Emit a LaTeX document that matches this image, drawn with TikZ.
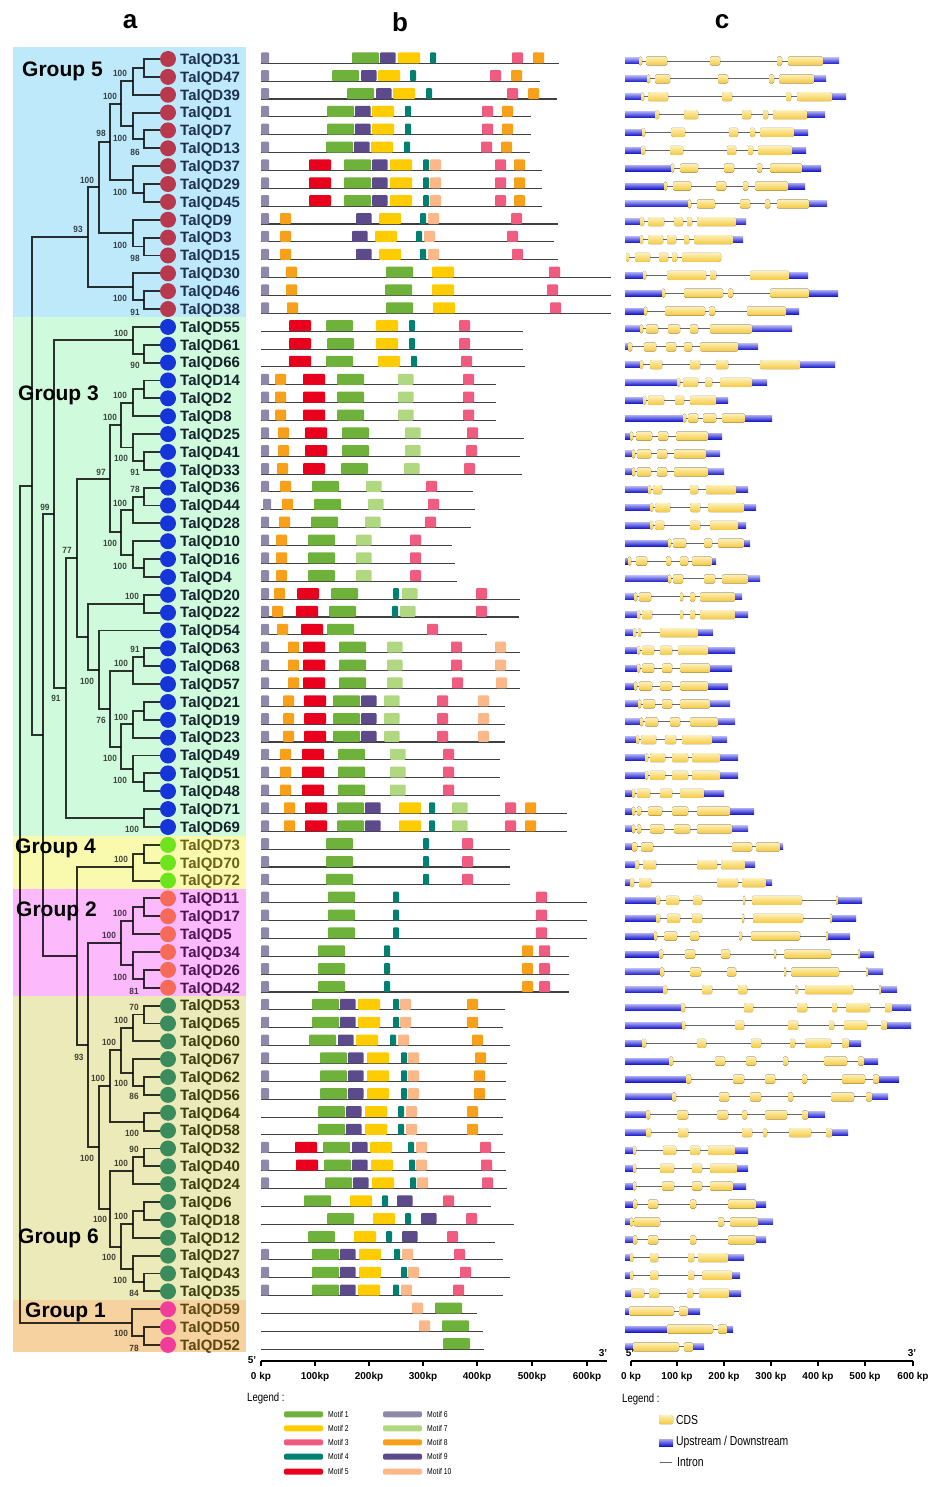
\documentclass[tikz,border=0pt]{standalone}
\usepackage{fontspec}
\setmainfont{Liberation Sans}
\usetikzlibrary{calc}
\definecolor{gfive}{HTML}{BEE9FB}
\definecolor{gthree}{HTML}{D0FADC}
\definecolor{gfour}{HTML}{FAFAAF}
\definecolor{gtwo}{HTML}{FCB9FC}
\definecolor{gsix}{HTML}{ECEAB9}
\definecolor{gone}{HTML}{F5D2A0}
\definecolor{cfive}{HTML}{B8394D}
\definecolor{cthree}{HTML}{1535D8}
\definecolor{cfour}{HTML}{6DE41C}
\definecolor{ctwo}{HTML}{F56A58}
\definecolor{csix}{HTML}{3A8C5C}
\definecolor{cone}{HTML}{F23C9A}
\definecolor{tfive}{HTML}{1D2F4D}
\definecolor{tthree}{HTML}{14202C}
\definecolor{tfour}{HTML}{6B6118}
\definecolor{ttwo}{HTML}{4B1450}
\definecolor{tsix}{HTML}{3B3A0C}
\definecolor{tone}{HTML}{5A4712}
\definecolor{mc1}{HTML}{6EB23C}
\definecolor{mc2}{HTML}{FFCC00}
\definecolor{mc3}{HTML}{F05C80}
\definecolor{mc4}{HTML}{008070}
\definecolor{mc5}{HTML}{E8001C}
\definecolor{mc6}{HTML}{9088A8}
\definecolor{mc7}{HTML}{B0D880}
\definecolor{mc8}{HTML}{F8A01A}
\definecolor{mc9}{HTML}{5C4A8A}
\definecolor{mc10}{HTML}{FCB888}
\definecolor{exlight}{HTML}{FDF0B8}
\definecolor{exdark}{HTML}{F5C940}
\definecolor{uplight}{HTML}{A8A8F4}
\definecolor{updark}{HTML}{1818C8}
\expandafter\def\csname mw1\endcsname{27}
\expandafter\def\csname mw2\endcsname{22}
\expandafter\def\csname mw3\endcsname{11}
\expandafter\def\csname mw4\endcsname{6}
\expandafter\def\csname mw5\endcsname{22}
\expandafter\def\csname mw6\endcsname{8}
\expandafter\def\csname mw7\endcsname{15.5}
\expandafter\def\csname mw8\endcsname{11}
\expandafter\def\csname mw9\endcsname{15.5}
\expandafter\def\csname mw10\endcsname{11}
\def\RY#1{(59+(#1-1)*17.86)}
\tikzset{
  tree/.style={line width=1.9pt, draw=black, draw opacity=0.8},
  dot/.style={circle, inner sep=0pt, minimum size=16pt},
  glabel/.style={inner sep=0pt, anchor=base west, font=\fontsize{15}{16}\selectfont\bfseries},
  bs/.style={inner sep=0pt, font=\fontsize{9}{10}\selectfont\bfseries, text=black, text opacity=0.72, xscale=0.92},
  gtitle/.style={inner sep=0pt, anchor=west, font=\fontsize{21}{22}\selectfont\bfseries},
  header/.style={inner sep=0pt, font=\fontsize{26}{28}\selectfont\bfseries},
  gline/.style={line width=1.1pt, draw=black!75},
  intron/.style={line width=0.9pt, draw=black!60},
  exon/.style={rounded corners=1.5pt, top color=exlight, bottom color=exdark, draw=none},
  updown/.style={top color=uplight, bottom color=updark, draw=none},
  axis/.style={line width=1.6pt, draw=black},
  ticklab/.style={inner sep=0pt, font=\fontsize{10}{11}\selectfont\bfseries},
  legtxt/.style={inner sep=0pt, anchor=west, xscale=0.8},
}
\newcommand\clade[4]{%
  \path let \p1=(#3), \p2=(#4) in coordinate (#1) at (#2pt,{0.5*(\y1+\y2)});
  \draw[tree] (#3) -| (#1) |- (#4);
}
\newcommand\genes[4]{%
  \foreach \n [count=\k from #1] in {#4} {
    \node[dot, fill=#2] (c\k) at (168,{\RY{\k}}) {};
    \node[glabel, text=#3] (l\k) at (180,{\RY{\k}+5.3}) {TalQD\n};
    \coordinate (t\k) at (160,{\RY{\k}});
  }}
\newcommand\mrow[3]{%
  \pgfmathsetmacro\ym{\RY{#1}}
  \draw[gline] (261,{\ym+4.3}) -- (#2,{\ym+4.3});
  \foreach \m/\s in {#3} {
    \fill[mc\m, rounded corners=1pt] (\s,{\ym-6.7}) rectangle ++(\csname mw\m\endcsname,11);
  }}
\newcommand\crow[5]{%
  \pgfmathsetmacro\yc{\RY{#1}+2}
  \draw[intron] (#2,\yc) -- (#3,\yc);
  \pgfmathtruncatemacro\hasup{#2>626.5}
  \ifnum\hasup=1 \fill[updown] (625,{\yc-3}) rectangle (#2,{\yc+3});\fi
  \pgfmathtruncatemacro\hasdn{#4>#3+0.5}
  \ifnum\hasdn=1 \fill[updown] (#3,{\yc-3}) rectangle (#4,{\yc+3});\fi
  \foreach \a/\b in {#5} {
    \fill[exon] (\a,{\yc-4.5}) rectangle (\b,{\yc+4.5});
  }}
\begin{document}
\begin{tikzpicture}[x=1pt,y=-1pt]
\useasboundingbox (0,0) rectangle (940,1487);
\fill[white] (0,0) rectangle (940,1487);
% group backgrounds
\fill[gfive] (13,47) rectangle (246,317);
\fill[gthree] (13,317) rectangle (246,835.5);
\fill[gfour] (13,835.5) rectangle (246,889);
\fill[gtwo] (13,889) rectangle (246,996);
\fill[gsix] (13,996) rectangle (246,1300);
\fill[gone] (13,1300) rectangle (246,1352);
% headers
\node[header] (ha) at (130,22) {a};
\node[header] (hb) at (400,22) {b};
\node[header] (hc) at (722,22) {c};
% group titles (under the tree lines)
\node[gtitle] (G5) at (22,71) {Group 5};
\node[gtitle] (G3) at (18,395) {Group 3};
\node[gtitle] (G4) at (15,848) {Group 4};
\node[gtitle] (G2) at (16,911) {Group 2};
\node[gtitle] (G6) at (18,1238) {Group 6};
\node[gtitle] (G1) at (25,1312) {Group 1};
% genes
\genes{1}{cfive}{tfive}{31,47,39,1,7,13,37,29,45,9,3,15,30,46,38}
\genes{16}{cthree}{tthree}{55,61,66,14,2,8,25,41,33,36,44,28,10,16,4,20,22,54,63,68,57,21,19,23,49,51,48,71,69}
\genes{45}{cfour}{tfour}{73,70,72}
\genes{48}{ctwo}{ttwo}{11,17,5,34,26,42}
\genes{54}{csix}{tsix}{53,65,60,67,62,56,64,58,32,40,24,6,18,12,27,43,35}
\genes{71}{cone}{tone}{59,50,52}
% tree: group 5
\clade{A}{144}{t1}{t2}
\clade{B}{133}{A}{t3}
\clade{C}{144}{t5}{t6}
\clade{D}{133}{t4}{C}
\clade{E}{121}{B}{D}
\clade{F}{144}{t8}{t9}
\clade{G}{133}{t7}{F}
\clade{H}{110}{E}{G}
\clade{I}{144}{t11}{t12}
\clade{J}{133}{t10}{I}
\clade{K}{99}{H}{J}
\clade{L}{144}{t14}{t15}
\clade{M}{133}{t13}{L}
\clade{N}{88}{K}{M}
% group 3
\clade{g3a}{144}{t17}{t18}
\clade{g3b}{133}{t16}{g3a}
\clade{g3c}{144}{t19}{t20}
\clade{g3d}{133}{g3c}{t21}
\clade{g3e}{144}{t23}{t24}
\clade{g3f}{133}{t22}{g3e}
\clade{g3g}{121}{g3d}{g3f}
\clade{g3h}{144}{t25}{t26}
\clade{g3i}{133}{g3h}{t27}
\clade{g3j}{144}{t29}{t30}
\clade{g3k}{133}{t28}{g3j}
\clade{g3l}{121}{g3i}{g3k}
\clade{g3V}{110}{g3g}{g3l}
\clade{g3m}{144}{t31}{t32}
\clade{g3n}{144}{t34}{t35}
\clade{g3o}{133}{g3n}{t36}
\clade{g3p}{144}{t37}{t38}
\clade{g3q}{133}{g3p}{t39}
\clade{g3r}{144}{t41}{t42}
\clade{g3s}{133}{t40}{g3r}
\clade{g3Z}{121}{g3q}{g3s}
\clade{g3Y}{110}{g3o}{g3Z}
\clade{g3X}{99}{t33}{g3Y}
\clade{g3W}{88}{g3m}{g3X}
\clade{g3U}{77}{g3V}{g3W}
\clade{g3t}{144}{t43}{t44}
\clade{g3T}{66}{g3U}{g3t}
\clade{g3R}{54}{g3b}{g3T}
% group 4
\clade{g4a}{144}{t45}{t46}
\clade{g4b}{133}{g4a}{t47}
% group 2
\clade{g2a}{144}{t48}{t49}
\clade{g2b}{133}{g2a}{t50}
\clade{g2c}{144}{t52}{t53}
\clade{g2d}{133}{t51}{g2c}
\clade{g2e}{121}{g2b}{g2d}
% group 6
\clade{g6a}{144}{t54}{t55}
\clade{g6b}{133}{g6a}{t56}
\clade{g6c}{144}{t58}{t59}
\clade{g6d}{133}{t57}{g6c}
\clade{g6e}{121}{g6b}{g6d}
\clade{g6f}{144}{t60}{t61}
\clade{g6g}{110}{g6e}{g6f}
\clade{g6h}{144}{t62}{t63}
\clade{g6i}{133}{g6h}{t64}
\clade{g6j}{144}{t65}{t66}
\clade{g6k}{133}{g6j}{t67}
\clade{g6l}{144}{t69}{t70}
\clade{g6m}{133}{t68}{g6l}
\clade{g6n}{121}{g6k}{g6m}
\clade{g6o}{110}{g6i}{g6n}
\clade{g6p}{99}{g6g}{g6o}
\clade{g6q}{88}{g2e}{g6p}
\clade{S}{77}{g4b}{g6q}
\clade{Q}{43}{g3R}{S}
\clade{P}{32}{N}{Q}
% group 1
\clade{g1a}{144}{t72}{t73}
\clade{g1b}{132}{t71}{g1a}
\clade{root}{20}{P}{g1b}
% bootstrap values
\foreach \bx/\by/\bv [count=\q] in {120/73/100,110/96/100,101/133/98,120/138/100,135/152/86,87/180/100,120/192/100,78/229/93,120/245/100,135/258/98,120/298/100,135/312/91,
121/333/100,135/365/90,120/395/100,110/417/100,121/458/100,135/472/91,101/472/97,135/489/78,120/503/100,45/507/99,110/543/100,67/550/77,120/566/100,132/596/100,135/649/91,121/663/100,87/681/100,56/698/91,101/720/76,121/717/100,110/758/100,120/780/100,132/829/100,
121/859/100,120/913/100,109/935/100,120/977/100,134/991/81,
134/1007/70,121/1020/100,109/1042/100,79/1057/93,98/1078/100,121/1083/100,134/1096/86,132/1133/100,134/1149/90,87/1158/100,121/1163/100,100/1219/100,121/1216/100,109/1257/100,120/1280/100,134/1293/84,
121/1333/100,134/1348/78}
  {\node[bs] (bs\q) at (\bx,\by) {\bv};}
% ===== panel b: motifs =====
\mrow{1}{559}{6/261,1/352,9/380,2/398,4/430,3/512,8/533}
\mrow{2}{540}{6/261,1/332,9/361,2/378,4/410,3/490,8/511}
\mrow{3}{557}{6/261,1/347,9/376,2/393,4/426,3/507,8/528}
\mrow{4}{531}{6/261,1/327,9/355,2/372,4/405,3/482,8/502}
\mrow{5}{531}{6/261,1/327,9/355,2/372,4/405,3/482,8/502}
\mrow{6}{530}{6/261,1/326,9/354,2/371,4/404,3/481,8/501}
\mrow{7}{542}{6/261,5/309,1/344,9/372,2/390,4/423,10/430,3/495,8/514}
\mrow{8}{542}{6/261,5/309,1/344,9/372,2/390,4/423,10/430,3/495,8/514}
\mrow{9}{542}{6/261,5/309,1/344,9/372,2/390,4/423,10/430,3/495,8/514}
\mrow{10}{558}{6/261,8/280,9/356,2/379,4/420,10/428,3/511}
\mrow{11}{554}{6/261,8/280,9/352,2/375,4/416,10/424,3/507}
\mrow{12}{558}{6/261,8/280,9/356,2/379,4/420,10/428,3/512}
\mrow{13}{611}{6/261,8/286,1/386,2/432,3/549}
\mrow{14}{611}{6/261,8/286,1/385,2/432,3/547}
\mrow{15}{611}{6/261,8/287,1/386,2/433,3/550}
\mrow{16}{523}{5/289,1/326,2/376,4/409,3/459}
\mrow{17}{523}{5/289,1/327,2/376,4/409,3/459}
\mrow{18}{525}{5/289,1/326,2/378,4/411,3/461}
\mrow{19}{496}{6/261,8/275,5/303,1/337,7/398,3/463}
\mrow{20}{496}{6/261,8/275,5/303,1/337,7/398,3/463}
\mrow{21}{496}{6/261,8/275,5/303,1/337,7/398,3/463}
\mrow{22}{524}{6/261,8/278,5/305,1/342,7/405,3/467}
\mrow{23}{520}{6/261,8/278,5/305,1/342,7/405,3/466}
\mrow{24}{522}{6/261,8/277,5/303,1/341,7/404,3/464}
\mrow{25}{473}{6/261,8/280,1/312,7/366,3/426}
\mrow{26}{475}{6/263,8/282,1/314,7/368,3/428}
\mrow{27}{471}{6/261,8/279,1/311,7/365,3/425}
\mrow{28}{452}{6/261,8/276,1/308,7/356,3/410}
\mrow{29}{455}{6/261,8/276,1/308,7/356,3/410}
\mrow{30}{457}{6/261,8/276,1/308,7/356,3/410}
\mrow{31}{520}{6/261,8/274,5/297,1/331,4/393,7/402,3/476}
\mrow{32}{519}{6/261,8/272,5/296,1/329,4/392,7/400,3/476}
\mrow{33}{487}{6/261,8/277,5/301,1/327,3/427}
\mrow{34}{520}{6/261,8/288,5/303,1/339,7/387,3/451,10/495}
\mrow{35}{520}{6/261,8/288,5/303,1/339,7/387,3/451,10/495}
\mrow{36}{520}{6/261,8/288,5/303,1/339,7/387,3/452,10/496}
\mrow{37}{505}{6/261,8/283,5/304,1/333,9/361,7/384,3/437,10/478}
\mrow{38}{505}{6/261,8/283,5/304,1/333,9/361,7/384,3/437,10/478}
\mrow{39}{505}{6/261,8/283,5/304,1/333,9/361,7/384,3/437,10/478}
\mrow{40}{500}{6/261,8/280,5/302,1/338,7/390,3/443}
\mrow{41}{500}{6/261,8/280,5/302,1/338,7/390,3/443}
\mrow{42}{500}{6/261,8/280,5/302,1/338,7/390,3/443}
\mrow{43}{567}{6/261,8/284,5/305,1/337,9/365,2/399,4/429,7/452,3/505,8/525}
\mrow{44}{567}{6/261,8/284,5/305,1/337,9/365,2/399,4/429,7/452,3/505,8/525}
\mrow{45}{510}{6/261,1/326,4/423,3/462}
\mrow{46}{510}{6/261,1/326,4/423,3/462}
\mrow{47}{510}{6/261,1/326,4/423,3/462}
\mrow{48}{587}{6/261,1/328,4/393,3/536}
\mrow{49}{587}{6/261,1/328,4/393,3/536}
\mrow{50}{587}{6/261,1/328,4/393,3/536}
\mrow{51}{569}{6/261,1/318,4/384,8/522,3/539}
\mrow{52}{569}{6/261,1/318,4/384,8/522,3/539}
\mrow{53}{569}{6/261,1/318,4/384,8/522,3/539}
\mrow{54}{505}{6/261,1/312,9/340,2/358,4/393,10/400,8/467}
\mrow{55}{503}{6/261,1/312,9/340,2/358,4/393,10/400,8/467}
\mrow{56}{510}{6/261,1/309,9/338,2/356,4/390,10/398,8/472}
\mrow{57}{507}{6/261,1/320,9/348,2/367,4/401,10/408,8/475}
\mrow{58}{506}{6/261,1/320,9/348,2/367,4/401,10/408,8/474}
\mrow{59}{506}{6/261,1/320,9/348,2/367,4/401,10/408,8/474}
\mrow{60}{503}{1/318,9/346,2/365,4/398,10/406,8/467}
\mrow{61}{503}{1/318,9/346,2/365,4/398,10/406,8/467}
\mrow{62}{505}{6/261,5/295,1/323,9/352,2/370,4/408,10/416,3/480}
\mrow{63}{506}{6/261,5/296,1/324,9/352,2/371,4/409,10/416,3/481}
\mrow{64}{507}{6/261,1/325,9/353,2/372,4/410,10/417,3/482}
\mrow{65}{491}{1/304,2/350,4/382,9/397,3/443}
\mrow{66}{514}{1/327,2/373,4/405,9/421,3/466}
\mrow{67}{495}{1/308,2/354,4/386,9/402,3/447}
\mrow{68}{503}{6/261,1/312,9/340,2/359,4/394,10/402,3/454}
\mrow{69}{510}{6/261,1/312,9/340,2/359,4/401,10/408,3/460}
\mrow{70}{503}{6/261,1/312,9/340,2/358,4/393,10/401,3/453}
\mrow{71}{477}{10/412,1/435}
\mrow{72}{483}{10/419,1/442}
\mrow{73}{484}{1/443}
% axis b
\draw[axis] (261,1361) -- (607,1361);
\foreach \tx/\tl [count=\q] in {261/0 kp,315/100kp,369/200kp,423/300kp,477/400kp,532/500kp,587/600kp}
  {\draw[line width=1.2pt] (\tx,1361) -- (\tx,1366); \node[ticklab] (tb\q) at (\tx,1377) {\tl};}
\node[ticklab] (b5) at (252,1360) {5'};
\node[ticklab] (b3) at (603,1353) {3'};
% legend b
\node[legtxt, font=\fontsize{12}{13}\selectfont] (legb) at (247,1398) {Legend :};
\foreach \mm/\lx/\ly [count=\q] in {1/284/1414.3,2/284/1428.3,3/284/1442.3,4/284/1456.7,5/284/1471.7,6/383/1414.3,7/383/1428.3,8/383/1442.3,9/383/1456.7,10/383/1471.7}
  {\fill[mc\mm, rounded corners=2pt] (\lx,\ly-3) rectangle (\lx+39,\ly+3);
   \node[legtxt, font=\fontsize{8.5}{9}\selectfont] (lm\q) at (\lx+44,\ly) {Motif \mm};}
% ===== panel c: gene structures =====
\crow{1}{639}{823}{839}{639/642,646/667,710/720,777/782,788/823}
\crow{2}{647}{814}{826}{647/650,655/670,718/728,769/774,779/814}
\crow{3}{641}{832}{846}{641/644,648/668,722/732,786/791,797/832}
\crow{4}{655}{807}{825}{655/659,684/698,742/751,763/768,773/807}
\crow{5}{642}{794}{808}{642/645,671/685,729/738,750/755,760/794}
\crow{6}{641}{792}{806}{641/645,670/683,727/736,748/753,758/792}
\crow{7}{671}{802}{821}{671/674,680/698,724/734,757/762,770/802}
\crow{8}{664}{788}{805}{664/667,673/691,716/726,743/748,755/788}
\crow{9}{688}{809}{827}{688/691,697/715,740/750,765/770,777/809}
\crow{10}{640}{736}{746}{640/644,648/664,674/683,687/692,697/736}
\crow{11}{640}{733}{743}{640/643,648/663,667/676,684/689,694/733}
\crow{12}{626}{721}{721}{626/629,635/650,659/668,672/677,682/721}
\crow{13}{643}{789}{808}{643/646,667/706,710/716,750/789}
\crow{14}{662}{809}{838}{662/665,684/723,728/733,770/809}
\crow{15}{644}{786}{799}{644/647,665/705,709/715,747/786}
\crow{16}{640}{752}{792}{640/643,646/658,668/680,690/698,710/752}
\crow{17}{628}{738}{758}{628/632,644/656,666/676,684/692,700/738}
\crow{18}{640}{800}{835}{640/643,650/662,690/700,716/728,760/800}
\crow{19}{677}{752}{767}{677/680,683/698,705/712,720/752}
\crow{20}{643}{716}{728}{643/646,648/664,675/684,690/716}
\crow{21}{683}{745}{772}{683/686,688/698,703/716,722/745}
\crow{22}{630}{708}{722}{630/633,636/652,658/668,676/708}
\crow{23}{632}{706}{720}{632/635,637/651,657/667,674/706}
\crow{24}{632}{708}{724}{632/635,637/651,657/667,674/708}
\crow{25}{648}{736}{748}{648/651,653/662,690/698,706/736}
\crow{26}{650}{744}{756}{650/653,655/670,690/700,708/744}
\crow{27}{650}{738}{746}{650/653,655/664,690/700,710/738}
\crow{28}{668}{744}{750}{668/671,673/686,704/712,718/744}
\crow{29}{628}{712}{716}{628/631,636/647,666/671,680/688,692/712}
\crow{30}{668}{748}{760}{668/671,673/683,704/715,722/748}
\crow{31}{634}{735}{742}{634/637,639/651,680/683,690/695,700/735}
\crow{32}{637}{735}{748}{637/640,642/652,680/683,690/695,700/735}
\crow{33}{633}{698}{713}{633/636,638/641,660/698}
\crow{34}{637}{708}{735}{637/640,642/654,660/672,678/708}
\crow{35}{637}{710}{732}{637/640,642/654,662/672,680/710}
\crow{36}{634}{708}{728}{634/637,639/652,660/672,680/708}
\crow{37}{638}{710}{730}{638/641,643/655,662/672,680/710}
\crow{38}{640}{718}{735}{640/643,645/658,670/680,690/718}
\crow{39}{636}{712}{727}{636/639,641/656,665/676,682/712}
\crow{40}{645}{720}{738}{645/648,650/665,672/688,692/720}
\crow{41}{645}{720}{738}{645/648,650/665,672/688,692/720}
\crow{42}{632}{704}{724}{632/635,637/650,660/672,680/704}
\crow{43}{632}{730}{754}{632/635,637/641,648/662,672/688,697/730}
\crow{44}{632}{732}{748}{632/635,637/641,650/664,674/690,697/732}
\crow{45}{632}{780}{783}{632/637,641/653,732/752,756/780}
\crow{46}{635}{745}{755}{635/639,643/656,697/717,721/745}
\crow{47}{630}{766}{772}{630/634,639/651,717/738,742/766}
\crow{48}{656}{838}{862}{656/660,666/679,693/702,743/745,752/802,836/838}
\crow{49}{656}{832}{856}{656/660,667/680,692/702,742/744,753/803,830/832}
\crow{50}{654}{828}{850}{654/657,664/677,690/699,739/742,751/800,826/828}
\crow{51}{659}{860}{874}{659/663,685/695,721/730,774/776,784/831,858/860}
\crow{52}{660}{868}{883}{660/664,690/701,727/736,784/786,791/839,866/868}
\crow{53}{663}{881}{897}{663/667,702/712,738/747,795/798,805/853,879/881}
\crow{54}{681}{892}{911}{681/685,744/753,797/807,832/837,846/870,885/892}
\crow{55}{682}{887}{911}{682/685,735/744,788/798,829/834,844/867,881/887}
\crow{56}{642}{849}{861}{642/646,697/706,751/761,790/795,805/831,842/849}
\crow{57}{669}{864}{878}{669/673,715/725,746/756,783/788,824/847,858/864}
\crow{58}{686}{879}{899}{686/691,733/744,765/775,802/807,842/865,873/879}
\crow{59}{672}{872}{888}{672/676,719/729,750/761,788/793,831/854,866/872}
\crow{60}{646}{808}{825}{646/650,677/688,717/728,742/747,765/787,802/808}
\crow{61}{646}{832}{848}{646/651,678/688,742/752,763/767,789/811,826/832}
\crow{62}{633}{735}{748}{633/636,663/676,690/700,708/735}
\crow{63}{633}{737}{748}{633/636,660/674,692/702,710/737}
\crow{64}{633}{733}{746}{633/636,662/674,692/702,710/733}
\crow{65}{633}{756}{766}{633/637,648/658,690/696,728/756}
\crow{66}{630}{758}{773}{630/633,634/660,718/724,730/758}
\crow{67}{633}{756}{766}{633/637,648/658,690/696,728/756}
\crow{68}{630}{728}{744}{630/633,650/658,688/694,698/728}
\crow{69}{630}{732}{740}{630/633,650/658,688/694,702/732}
\crow{70}{631}{729}{741}{631/644,649/659,687/693,699/729}
\crow{71}{629}{688}{700}{629/674,679/688}
\crow{72}{667}{727}{733}{667/713,718/727}
\crow{73}{633}{693}{704}{633/679,684/693}
% axis c
\draw[axis] (631,1361) -- (913,1361);
\foreach \tx/\tl [count=\q] in {631/0 kp,677/100 kp,724/200 kp,771/300 kp,818/400 kp,865/500 kp,913/600 kp}
  {\draw[line width=1.2pt] (\tx,1361) -- (\tx,1366); \node[ticklab] (tc\q) at (\tx,1377) {\tl};}
\node[ticklab] (c5) at (630,1353) {5'};
\node[ticklab] (c3) at (912,1353) {3'};
% legend c
\node[legtxt, font=\fontsize{12}{13}\selectfont] (legc) at (622,1399) {Legend :};
\fill[exon] (659,1415) rectangle (673,1424);
\node[legtxt, font=\fontsize{13}{14}\selectfont] (lcds) at (676,1420) {CDS};
\fill[updown] (659,1439) rectangle (673,1446);
\node[legtxt, font=\fontsize{13}{14}\selectfont] (lud) at (676,1442) {Upstream / Downstream};
\draw[intron, line width=1pt] (660,1462) -- (672,1462);
\node[legtxt, font=\fontsize{13}{14}\selectfont] (lint) at (677,1462) {Intron};
\end{tikzpicture}
\end{document}
